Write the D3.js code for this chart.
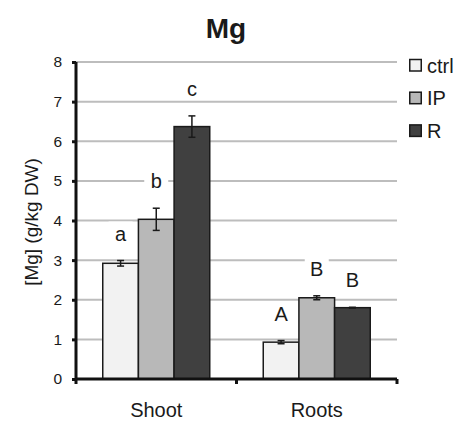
<!DOCTYPE html>
<html>
<head>
<meta charset="utf-8">
<script src="https://cdn.jsdelivr.net/npm/d3@7"></script>
<style>
  body { margin: 0; background: #fff; }
  svg text { font-family: 'Liberation Sans', Arial, sans-serif; fill: #1a1a1a; }
</style>
</head>
<body>
<svg width="457" height="421"></svg>
<script>
const svg = d3.select('svg')

// data
const categories = ['Shoot', 'Roots']
const series = ['ctrl', 'IP', 'R']
const colors = ['#f2f2f2', '#b8b8b8', '#404040']
const values = [[2.92, 4.03, 6.37], [0.93, 2.05, 1.80]]
const errors = [[0.07, 0.28, 0.27], [0.04, 0.05, 0.01]]
const letters = [['a', 'b', 'c'], ['A', 'B', 'B']]
const yTicks = [0, 1, 2, 3, 4, 5, 6, 7, 8]

const plotLeft = 76, plotRight = 397, plotTop = 62, plotBottom = 379

const x = d3.scaleBand().domain(categories).range([plotLeft, plotRight]).padding(0)
const groupW = 107
const xInner = d3.scaleBand().domain(series)
  .range([(x.bandwidth() - groupW) / 2, (x.bandwidth() + groupW) / 2])
const y = d3.scaleLinear().domain([0, 8]).range([plotBottom, plotTop])

// gridlines
svg.append('g')
  .selectAll('line')
  .data(yTicks.slice(1))
  .enter()
  .append('line')
  .attr('x1', plotLeft).attr('x2', plotRight)
  .attr('y1', d => y(d)).attr('y2', d => y(d))
  .attr('stroke', '#bdbdbd')
  .attr('stroke-width', 2)

// bars
const groups = svg.selectAll('g.cat')
  .data(categories)
  .enter()
  .append('g')
  .attr('class', 'cat')
  .attr('transform', d => `translate(${x(d)},0)`)

groups.each(function (c, ci) {
  const g = d3.select(this)
  series.forEach((s, si) => {
    const v = values[ci][si], e = errors[ci][si]
    const bx = xInner(s), bw = xInner.bandwidth(), cx = bx + bw / 2
    g.append('rect')
      .attr('x', bx).attr('y', y(v))
      .attr('width', bw).attr('height', y(0) - y(v))
      .attr('fill', colors[si])
      .attr('stroke', '#1a1a1a')
      .attr('stroke-width', 1.5)
    // error bar
    g.append('line')
      .attr('x1', cx).attr('x2', cx)
      .attr('y1', y(v + e)).attr('y2', y(v - e))
      .attr('stroke', '#1a1a1a').attr('stroke-width', 1.5)
    ;[v + e, v - e].forEach(t => {
      g.append('line')
        .attr('x1', cx - 3.5).attr('x2', cx + 3.5)
        .attr('y1', y(t)).attr('y2', y(t))
        .attr('stroke', '#1a1a1a').attr('stroke-width', 1.5)
    })
    // significance letter with white box to mask gridlines
    const base = y(v + e) - 20
    g.append('rect')
      .attr('x', cx - 12).attr('y', base - 19)
      .attr('width', 24).attr('height', 22)
      .attr('fill', '#fff')
    g.append('text')
      .attr('x', cx).attr('y', base)
      .attr('text-anchor', 'middle')
      .style('font-size', '20px')
      .text(letters[ci][si])
  })
})

// y axis
const yAxis = svg.append('g')
  .attr('transform', `translate(${plotLeft},0)`)
  .call(d3.axisLeft(y).tickValues(yTicks).tickFormat(d3.format('d')).tickSize(4).tickPadding(10))
yAxis.select('.domain').attr('stroke', '#111').attr('stroke-width', 3).attr('d', `M0,${plotTop}V${plotBottom}`)
yAxis.selectAll('.tick line').attr('stroke', '#111').attr('stroke-width', 3)
yAxis.selectAll('.tick text').style('font-size', '15.5px').style('font-family', "'Liberation Sans', Arial, sans-serif").attr('fill', '#1a1a1a')

// x axis
const xAxis = svg.append('g')
  .attr('transform', `translate(0,${plotBottom})`)
  .call(d3.axisBottom(x).tickSize(0).tickPadding(24))
xAxis.select('.domain').attr('stroke', '#111').attr('stroke-width', 3).attr('d', `M${plotLeft},0H${plotRight}`)
xAxis.selectAll('.tick text').style('font-size', '20px').style('font-family', "'Liberation Sans', Arial, sans-serif").attr('fill', '#1a1a1a')
xAxis.selectAll('line.sep')
  .data([plotLeft, plotRight, x('Roots')])
  .enter()
  .append('line')
  .attr('class', 'sep')
  .attr('x1', d => d).attr('x2', d => d)
  .attr('y1', 0).attr('y2', 5)
  .attr('stroke', '#111').attr('stroke-width', 3)

// title
svg.append('text')
  .attr('x', 226).attr('y', 38)
  .attr('text-anchor', 'middle')
  .style('font-size', '28px').style('font-weight', 'bold')
  .text('Mg')

// y label
svg.append('text')
  .attr('transform', 'translate(38,222) rotate(-90)')
  .attr('text-anchor', 'middle')
  .style('font-size', '19px')
  .text('[Mg] (g/kg DW)')

// legend
const legend = svg.selectAll('g.legend')
  .data(series)
  .enter()
  .append('g')
  .attr('class', 'legend')
  .attr('transform', (d, i) => `translate(409,${65 + i * 32.7})`)
legend.append('rect')
  .attr('x', 0.75).attr('y', -5.5).attr('width', 11.5).attr('height', 11.5)
  .attr('fill', (d, i) => colors[i])
  .attr('stroke', '#1a1a1a').attr('stroke-width', 1.5)
legend.append('text')
  .attr('x', 18).attr('y', 7.5)
  .style('font-size', '20px')
  .text(d => d)
</script>
</body>
</html>
